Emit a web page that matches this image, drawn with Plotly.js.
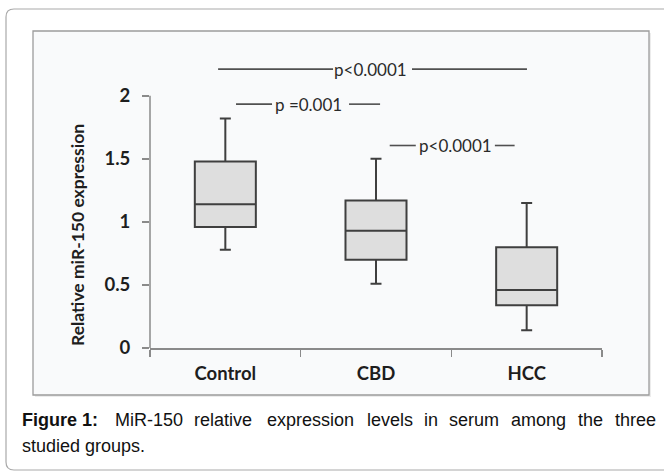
<!DOCTYPE html>
<html>
<head>
<meta charset="utf-8">
<script src="https://cdn.plot.ly/plotly-3.0.1.min.js"></script>
<style>html,body{margin:0;padding:0;background:#fff;}#chart{width:664px;height:473px;}</style>
</head>
<body>
<div id="chart"></div>
<script>
// ---- data ----
var categories = ['Control', 'CBD', 'HCC'];
var lowerWhisker = [0.78, 0.51, 0.14];
var q1Values = [0.96, 0.70, 0.34];
var medianValues = [1.14, 0.93, 0.46];
var q3Values = [1.48, 1.17, 0.80];
var upperWhisker = [1.82, 1.50, 1.15];
var yTickValues = [0, 0.5, 1, 1.5, 2];
var yTickLabels = ['0', '0.5', '1', '1.5', '2'];
var pLabels = ['p<0.0001', 'p =0.001', 'p<0.0001'];
var yAxisTitle = 'Relative miR-150 expression';
var captionBold = 'Figure 1:';
var captionLine1 = ['MiR-150', 'relative', 'expression', 'levels', 'in', 'serum', 'among', 'the', 'three'];
var captionLine2 = 'studied groups.';

// ---- layout helpers (pixel -> paper for decorative frame/caption) ----
var W = 664, H = 473;
var M = {l: 150, r: 62, t: 58, b: 125};
var PW = W - M.l - M.r, PH = H - M.t - M.b;
function PX(px) { return (px - M.l) / PW; }
function PY(py) { return (H - M.b - py) / PH; }

var lineCol = '#3f3f3f';
var axisCol = '#8a8a8a';
var labelFont = {family: 'Lato, "Open Sans", sans-serif', size: 18.5, color: '#1e1e1e', weight: 'bold'};

var trace = {
  type: 'box',
  x: categories,
  q1: q1Values,
  median: medianValues,
  q3: q3Values,
  lowerfence: lowerWhisker,
  upperfence: upperWhisker,
  width: 0.405,
  whiskerwidth: 0.18,
  fillcolor: '#dedede',
  line: {color: lineCol, width: 2},
  hoverinfo: 'skip',
  showlegend: false
};

// significance brackets (segments around the p text), in category/data units
var sig = [
  {y: 2.212, segs: [[-0.048, 0.715], [1.239, 2.002]], tx: 0.965},
  {y: 1.934, segs: [[0.071, 0.31], [0.821, 1.027]], tx: 0.555},
  {y: 1.606, segs: [[1.091, 1.264], [1.789, 1.92]], tx: 1.525}
];

var shapes = [];
var annotations = [];

// outer rounded frame
var ox0 = PX(6), ox1 = PX(680), oy0 = PY(470), oy1 = PY(9);
var rx = 8 / PW, ry = 8 / PH;
shapes.push({
  type: 'path', xref: 'paper', yref: 'paper', layer: 'below',
  path: 'M ' + (ox0 + rx) + ',' + oy1 + ' L ' + ox1 + ',' + oy1 +
        ' M ' + (ox0 + rx) + ',' + oy1 + ' Q ' + ox0 + ',' + oy1 + ' ' + ox0 + ',' + (oy1 - ry) +
        ' L ' + ox0 + ',' + (oy0 + ry) + ' Q ' + ox0 + ',' + oy0 + ' ' + (ox0 + rx) + ',' + oy0 +
        ' L ' + ox1 + ',' + oy0,
  line: {color: '#a9a9a9', width: 1.2}
});
// inner chart frame
shapes.push({
  type: 'rect', xref: 'paper', yref: 'paper', layer: 'below',
  x0: PX(35), x1: PX(651), y0: PY(397), y1: PY(33),
  fillcolor: '#ececec', line: {width: 0}
});
shapes.push({
  type: 'rect', xref: 'paper', yref: 'paper', layer: 'below',
  x0: PX(33), x1: PX(649), y0: PY(395), y1: PY(31),
  fillcolor: '#f9fafb', line: {color: '#9c9c9c', width: 1.3}
});
// y axis line from 0 to 2
shapes.push({
  type: 'line', xref: 'paper', yref: 'y', x0: 0, x1: 0, y0: 0, y1: 2,
  line: {color: axisCol, width: 1.5}
});

sig.forEach(function (s, i) {
  s.segs.forEach(function (g) {
    shapes.push({type: 'line', xref: 'x', yref: 'y', x0: g[0], x1: g[1], y0: s.y, y1: s.y,
      line: {color: '#505050', width: 1.6}});
  });
  annotations.push({xref: 'x', yref: 'y', x: s.tx, y: s.y, text: pLabels[i], showarrow: false,
    xanchor: 'center', yanchor: 'middle',
    font: {family: 'Lato, "Open Sans", sans-serif', size: 17, color: '#2a2a2a'}});
});

// y axis title
annotations.push({xref: 'paper', yref: 'paper', x: PX(77), y: PY(235), text: yAxisTitle,
  textangle: -90, showarrow: false, xanchor: 'center', yanchor: 'middle',
  font: {family: 'Lato, "Open Sans", sans-serif', size: 17.5, color: '#1e1e1e', weight: 'bold'}});

// caption
var capFont = {family: '"Liberation Sans", Arial, sans-serif', size: 18, color: '#111'};
var capY1 = PY(420), capY2 = PY(446);
annotations.push({xref: 'paper', yref: 'paper', x: PX(20), y: capY1, text: '<b>' + captionBold + '</b>',
  showarrow: false, xanchor: 'left', yanchor: 'middle', font: capFont});
var wordX = [113, 192, 265, 365, 422, 447, 509, 576, 613];
captionLine1.forEach(function (w, i) {
  annotations.push({xref: 'paper', yref: 'paper', x: PX(wordX[i]), y: capY1, text: w,
    showarrow: false, xanchor: 'left', yanchor: 'middle', font: capFont});
});
annotations.push({xref: 'paper', yref: 'paper', x: PX(20), y: capY2, text: captionLine2,
  showarrow: false, xanchor: 'left', yanchor: 'middle', font: capFont});

var layout = {
  width: W, height: H,
  margin: M,
  paper_bgcolor: '#ffffff',
  plot_bgcolor: 'rgba(0,0,0,0)',
  showlegend: false,
  xaxis: {
    type: 'category', range: [-0.5, 2.5],
    showline: true, linecolor: axisCol, linewidth: 1.5,
    ticks: 'outside', tickson: 'boundaries', ticklen: 7, tickcolor: axisCol, tickwidth: 1.5,
    showgrid: false, zeroline: false,
    tickfont: labelFont, ticklabelstandoff: 8
  },
  yaxis: {
    range: [0, 2.3],
    showline: false, showgrid: false, zeroline: false,
    tickmode: 'array', tickvals: yTickValues, ticktext: yTickLabels,
    ticks: 'outside', ticklen: 7, tickcolor: axisCol, tickwidth: 1.5,
    tickfont: labelFont, ticklabelstandoff: 8
  },
  shapes: shapes,
  annotations: annotations
};

Plotly.newPlot('chart', [trace], layout, {staticPlot: true, displayModeBar: false});
</script>
</body>
</html>
